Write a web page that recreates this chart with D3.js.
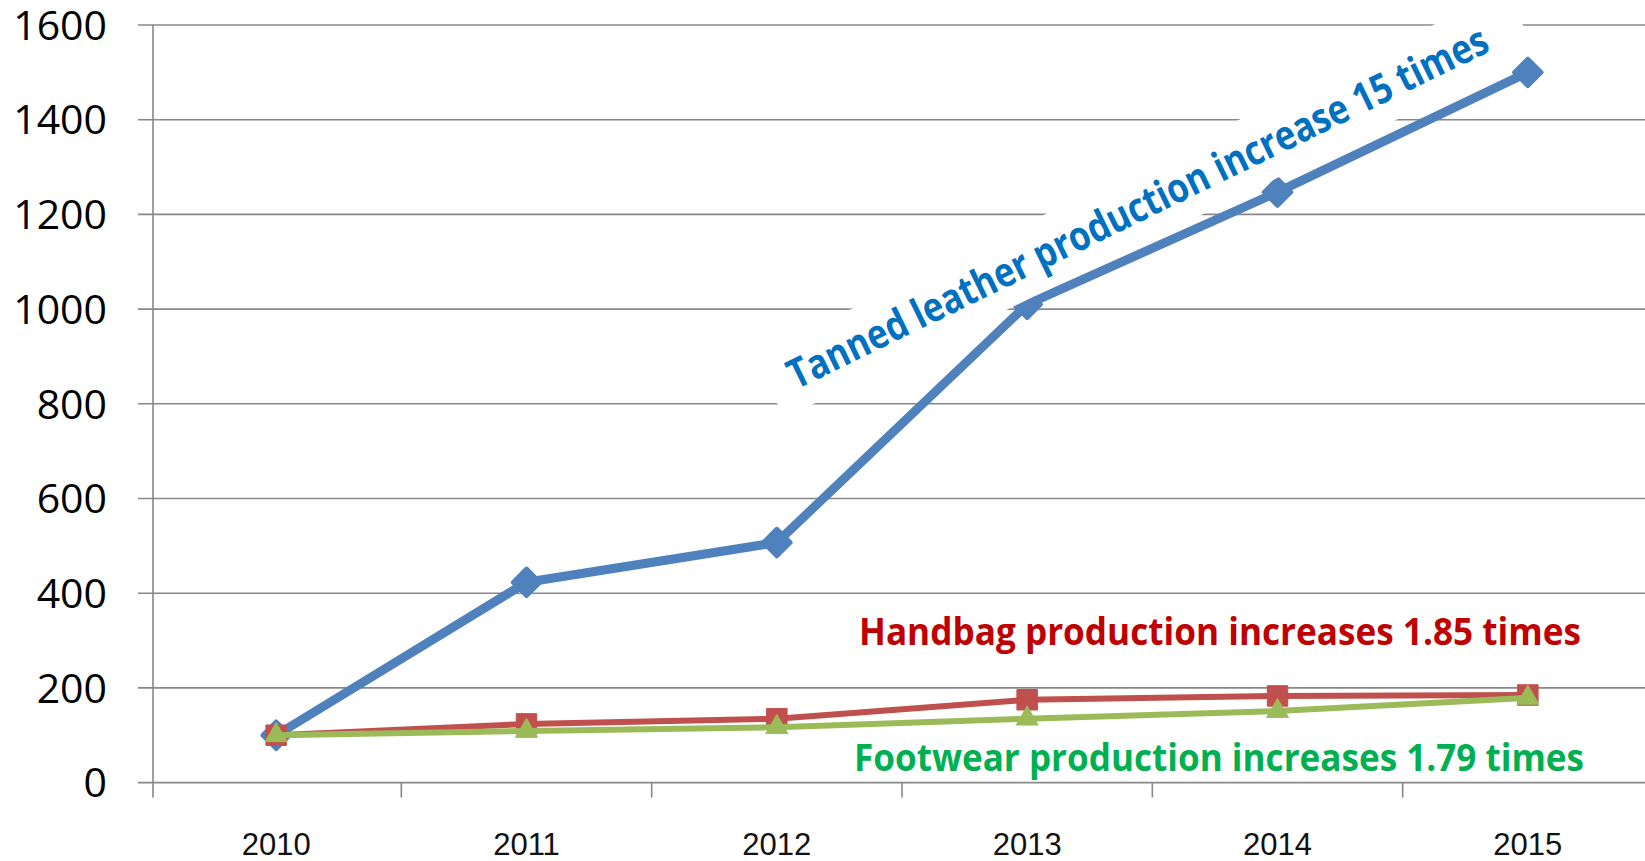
<!DOCTYPE html>
<html>
<head>
<meta charset="utf-8">
<script src="https://cdn.jsdelivr.net/npm/d3@7"></script>
<style>
  body { margin: 0; background: #fff; overflow: hidden; }
  svg { display: block; }
</style>
</head>
<body>
<svg id="chart"></svg>
<script>
const years = ['2010', '2011', '2012', '2013', '2014', '2015'];
const leather = [100, 423, 507, 1010, 1247, 1500];
const handbag = [100, 124, 135, 175, 183, 185];
const footwear = [100, 109, 117, 135, 151, 179];
const yTicks = [0, 200, 400, 600, 800, 1000, 1200, 1400, 1600];

const WIDTH = 1645;
const HEIGHT = 861;
const GRID = '#888888';

const svg = d3.select('#chart')
    .attr('width', WIDTH)
    .attr('height', HEIGHT);

const x = d3.scaleBand()
    .domain(years)
    .range([151, 1653]);

const y = d3.scaleLinear()
    .domain([0, 1600])
    .range([782.6, 25]);

// gridlines
svg.append('g')
    .selectAll('line')
    .data(yTicks)
    .join('line')
    .attr('x1', 138)
    .attr('x2', WIDTH)
    .attr('y1', d => y(d))
    .attr('y2', d => y(d))
    .attr('stroke', GRID)
    .attr('stroke-width', 1.6);

// y axis line
svg.append('line')
    .attr('x1', 153).attr('x2', 153)
    .attr('y1', y(1600)).attr('y2', y(0) + 15)
    .attr('stroke', GRID)
    .attr('stroke-width', 1.6);

// x ticks at band edges
svg.append('g')
    .selectAll('line')
    .data(years.slice(1))
    .join('line')
    .attr('x1', d => x(d))
    .attr('x2', d => x(d))
    .attr('y1', y(0))
    .attr('y2', y(0) + 15)
    .attr('stroke', GRID)
    .attr('stroke-width', 1.6);

// y labels
svg.append('g')
    .selectAll('text')
    .data(yTicks)
    .join('text')
    .attr('x', 107)
    .attr('y', d => y(d))
    .attr('dy', '0.36em')
    .attr('text-anchor', 'end')
    .style('font-family', '"Open Sans", sans-serif')
    .style('font-size', '41px')
    .attr('fill', '#000')
    .text(d => d);

// x labels
svg.append('g')
    .selectAll('text')
    .data(years)
    .join('text')
    .attr('x', d => x(d) + x.bandwidth() / 2)
    .attr('y', 855)
    .attr('text-anchor', 'middle')
    .style('font-family', '"Liberation Sans", Arial, sans-serif')
    .style('font-size', '31px')
    .attr('fill', '#111')
    .text(d => d);

const cx = (d, i) => x(years[i]) + x.bandwidth() / 2;

function drawSeries(values, color, width, marker) {
    const line = d3.line()
        .x((d, i) => cx(d, i))
        .y(d => y(d));

    svg.append('path')
        .datum(values)
        .attr('d', line)
        .attr('fill', 'none')
        .attr('stroke', color)
        .attr('stroke-width', width)
        .attr('stroke-linejoin', 'round');

    svg.append('g')
        .selectAll('path')
        .data(values)
        .join('path')
        .attr('d', d3.symbol().type(marker.type).size(marker.size))
        .attr('transform', (d, i) => `translate(${cx(d, i)},${y(d)})${marker.rotate ? ' rotate(45)' : ''}`)
        .attr('fill', color)
        .attr('stroke', color)
        .attr('stroke-width', marker.stroke)
        .attr('stroke-linejoin', 'round');
}

drawSeries(leather, '#4F81BD', 9, { type: d3.symbolSquare, size: 380, rotate: true, stroke: 4 });
drawSeries(handbag, '#C0504D', 6, { type: d3.symbolSquare, size: 420, stroke: 1 });
drawSeries(footwear, '#9BBB59', 6, { type: d3.symbolTriangle, size: 210, stroke: 1 });

// rotated annotation for leather, with white box
const note = svg.append('g')
    .attr('transform', 'translate(1145,204) rotate(-26)');

note.append('rect')
    .attr('x', -418)
    .attr('y', -34.5)
    .attr('width', 836)
    .attr('height', 69)
    .attr('fill', '#fff');

note.append('text')
    .attr('x', -8)
    .attr('y', 14)
    .attr('text-anchor', 'middle')
    .attr('textLength', 774)
    .attr('lengthAdjust', 'spacingAndGlyphs')
    .style('font-family', '"Open Sans", sans-serif')
    .style('font-weight', 'bold')
    .style('font-size', '41px')
    .attr('fill', '#0070C0')
    .text('Tanned leather production increase 15 times');

// other annotations
const notes = [
    { text: 'Handbag production increases 1.85 times', color: '#C00000', x: 859, y: 645, len: 722 },
    { text: 'Footwear production increases 1.79 times', color: '#00B050', x: 854, y: 771, len: 730 }
];

svg.append('g')
    .selectAll('text')
    .data(notes)
    .join('text')
    .attr('x', d => d.x)
    .attr('y', d => d.y)
    .attr('textLength', d => d.len)
    .attr('lengthAdjust', 'spacingAndGlyphs')
    .style('font-family', '"Open Sans", sans-serif')
    .style('font-weight', 'bold')
    .style('font-size', '38px')
    .attr('fill', d => d.color)
    .text(d => d.text);
</script>
</body>
</html>
